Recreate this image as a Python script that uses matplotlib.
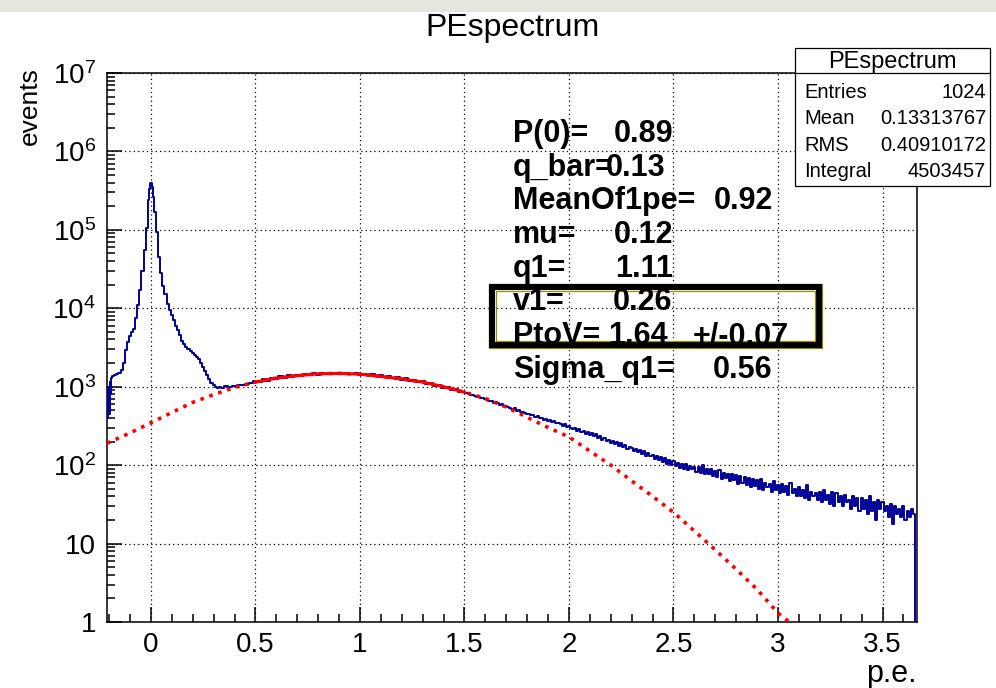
import matplotlib
matplotlib.use("Agg")
import numpy as np
import matplotlib.pyplot as plt
from matplotlib.patches import Rectangle
from matplotlib.lines import Line2D
from matplotlib.ticker import FixedLocator, FixedFormatter, MultipleLocator, LogLocator, NullFormatter

plt.rcParams['font.family'] = ['Liberation Sans', 'DejaVu Sans']
plt.rcParams['mathtext.fontset'] = 'custom'
plt.rcParams['mathtext.rm'] = 'Liberation Sans'

# ---- data ----
# blue histogram: pedestal peak (irregular spacing)
peak_x = [-0.208, -0.204, -0.200, -0.196, -0.192, -0.188, -0.184, -0.180, -0.170, -0.160,
          -0.150, -0.140, -0.130, -0.120, -0.110, -0.100, -0.090, -0.080, -0.070, -0.060,
          -0.050, -0.040, -0.030, -0.020, -0.012, -0.006, 0.000, 0.006, 0.012, 0.020,
          0.030, 0.040, 0.050, 0.060, 0.070, 0.080, 0.090, 0.100, 0.110, 0.120,
          0.130, 0.140, 0.150, 0.160, 0.170, 0.180, 0.190, 0.200, 0.210, 0.220,
          0.230, 0.240, 0.250, 0.260, 0.270, 0.280, 0.290, 0.300, 0.310, 0.320,
          0.330, 0.340, 0.360, 0.380, 0.400, 0.420, 0.440, 0.460, 0.480]
peak_y = [400, 1000, 450, 1150, 800, 1300, 1350, 1380, 1400, 1450,
          1500, 1650, 2000, 2900, 3700, 4400, 5000, 5500, 7500, 11000,
          17000, 30000, 55000, 105000, 240000, 330000, 400000, 350000, 260000, 170000,
          95000, 45000, 28000, 19000, 15000, 11500, 9500, 8200, 7000, 6000,
          5300, 4500, 3800, 3500, 3200, 3000, 2850, 2700, 2550, 2400,
          2250, 2000, 1800, 1600, 1400, 1250, 1120, 1040, 980, 960,
          1000, 975, 1010, 995, 1030, 1050, 1065, 1090, 1130]

# blue histogram: 1 p.e. region, bins of 0.02 from 0.50 to 1.48
hump_x = np.round(np.arange(0.50, 1.49, 0.02), 2)
hump_y = [1190, 1150, 1240, 1200, 1300, 1260, 1350, 1300, 1390, 1350,
          1430, 1380, 1460, 1410, 1480, 1430, 1500, 1450, 1510, 1460,
          1515, 1455, 1500, 1440, 1490, 1420, 1460, 1395, 1440, 1370,
          1400, 1330, 1365, 1285, 1320, 1235, 1275, 1185, 1225, 1135,
          1175, 1085, 1115, 1025, 1055, 965, 990, 905, 930, 850]

# blue histogram: tail, bins of 0.01 from 1.50 to 3.66
tail_x = np.round(np.arange(1.50, 3.665, 0.01), 2)
tail_y = [860, 825, 830, 790, 795, 760, 745, 742, 712, 715,
          690, 682, 655, 660, 628, 632, 612, 592, 598, 570,
          568, 545, 542, 520, 530, 496, 498, 478, 470, 468,
          450, 455, 432, 436, 410, 420, 398, 405, 380, 392,
          370, 378, 352, 365, 340, 345, 332, 320, 330, 308,
          318, 300, 292, 298, 275, 285, 266, 275, 252, 262,
          245, 255, 232, 246, 222, 238, 210, 222, 205, 212,
          192, 205, 186, 198, 178, 190, 170, 182, 160, 172,
          165, 152, 162, 146, 158, 140, 150, 132, 144, 130,
          136, 120, 132, 116, 126, 110, 124, 104, 118, 100,
          112, 98, 108, 92, 104, 90, 102, 86, 98, 88,
          96, 82, 94, 80, 100, 78, 90, 76, 88, 72,
          84, 70, 86, 66, 80, 68, 78, 62, 76, 64,
          74, 58, 72, 60, 70, 56, 68, 52, 66, 54,
          64, 50, 66, 48, 60, 52, 58, 46, 62, 48,
          56, 44, 58, 46, 54, 42, 60, 44, 50, 40,
          52, 40, 48, 38, 56, 36, 46, 40, 44, 36,
          46, 34, 48, 36, 42, 32, 46, 30, 44, 34,
          40, 30, 42, 34, 36, 28, 40, 30, 38, 26,
          38, 28, 36, 24, 40, 26, 34, 20, 36, 28,
          34, 26, 30, 22, 32, 18, 30, 24, 28, 22,
          30, 20, 26, 22, 28, 24, 0.5]

# red fit curve
red_x = [-0.21, -0.1, 0.0, 0.1, 0.2, 0.3, 0.4, 0.5, 0.6, 0.7, 0.8, 0.9, 1.0, 1.1, 1.2, 1.3,
         1.4, 1.5, 1.6, 1.7, 1.8, 1.9, 2.0, 2.1, 2.2, 2.3, 2.4, 2.5, 2.6, 2.7, 2.8, 2.9,
         3.0, 3.1]
red_y = [190, 257, 347, 468, 631, 794, 977, 1148, 1288, 1380, 1462, 1479, 1445, 1349, 1259, 1148,
         1000, 851, 708, 550, 407, 302, 229, 151, 100, 63, 40, 25, 14.5, 8.3, 4.7, 2.6,
         1.3, 0.8]

x_ticks = [0, 0.5, 1, 1.5, 2, 2.5, 3, 3.5]
x_tick_labels = ['0', '0.5', '1', '1.5', '2', '2.5', '3', '3.5']
y_ticks = [1, 10, 1e2, 1e3, 1e4, 1e5, 1e6, 1e7]
y_tick_labels = ['1', '10'] + [r'$\mathregular{10^{%d}}$' % k for k in range(2, 8)]

fit_labels = ['P(0)=', 'q_bar=', 'MeanOf1pe=', 'mu=', 'q1=', 'v1=', 'PtoV=', 'Sigma_q1=']
fit_values = ['0.89', '0.13', '0.92', '0.12', '1.11', '0.26', '1.64', '0.56']
stats_names = ['Entries', 'Mean', 'RMS', 'Integral']
stats_values = ['1024', '0.13313767', '0.40910172', '4503457']

# ---- figure in pixel layout ----
W, H = 996, 688
fig = plt.figure(figsize=(9.96, 6.88), dpi=100)

def fx(px):
    return px / W

def fy(py):
    return 1 - py / H

# screenshot strip at the top
fig.patches.append(Rectangle((0, fy(12)), 1, 12 / H, transform=fig.transFigure,
                             facecolor='#e7e5e0', edgecolor='none'))

ax = fig.add_axes([fx(107), fy(622), fx(917) - fx(107), fy(73) - fy(622)])
ax.set_yscale('log')
ax.set_xlim(-0.21, 3.665)
ax.set_ylim(1, 1e7)

blue_x = list(peak_x) + list(hump_x) + list(tail_x)
blue_y = list(peak_y) + list(hump_y) + list(tail_y)
ax.step(blue_x, blue_y, where='mid', color='#000099', lw=1.4, zorder=3)
ax.plot(red_x, red_y, color='red', lw=2.6, linestyle=(0, (1, 1.6)),
        dash_capstyle='butt', zorder=4)
mid = [i for i, v in enumerate(red_x) if 0.5 <= v <= 1.5]
ax.plot([red_x[i] for i in mid], [red_y[i] for i in mid], color='red', lw=2.2, zorder=4)

ax.xaxis.set_major_locator(FixedLocator(x_ticks))
ax.xaxis.set_major_formatter(FixedFormatter(x_tick_labels))
ax.xaxis.set_minor_locator(MultipleLocator(0.1))
ax.yaxis.set_major_locator(FixedLocator(y_ticks))
ax.yaxis.set_major_formatter(FixedFormatter(y_tick_labels))
ax.yaxis.set_minor_locator(LogLocator(base=10, subs=range(2, 10), numticks=20))
ax.yaxis.set_minor_formatter(NullFormatter())

ax.tick_params(which='both', direction='in', top=False, right=False, width=1.1,
               labelsize=20, colors='black')
ax.tick_params(which='major', length=11)
ax.tick_params(which='minor', length=6)
ax.tick_params(axis='x', pad=7)
ax.tick_params(axis='y', pad=8)
for s in ax.spines.values():
    s.set_linewidth(1.1)

ax.grid(True, which='major', color='black', lw=0.9, linestyle=(0, (1, 2.5)))
ax.set_axisbelow(True)

ax.set_ylabel('events', fontsize=19, loc='top')
ax.yaxis.set_label_coords(-0.081, 1.011)
ax.set_xlabel('p.e.', fontsize=22, loc='right')
ax.xaxis.set_label_coords(1.0, -0.068)

fig.text(fx(513), fy(36), 'PEspectrum', ha='center', va='baseline', fontsize=23)

# fit results text
val_x = [614, 606, 714, 614, 615, 613, 608, 713]
for i, (lab, val) in enumerate(zip(fit_labels, fit_values)):
    yb = fy(142 + 33.7 * i)
    fig.text(fx(513), yb, lab, fontsize=22, fontweight='bold', va='baseline', zorder=10)
    fig.text(fx(val_x[i]), yb, val, fontsize=22, fontweight='bold', va='baseline', zorder=10)
fig.text(fx(693), fy(142 + 33.7 * 6), '+/-0.07', fontsize=22, fontweight='bold',
         va='baseline', zorder=10)

# highlight frame round v1 / PtoV
def frame(x0, y0, x1, y1, color, lw):
    fig.patches.append(Rectangle((fx(x0), fy(y1)), fx(x1) - fx(x0), (y1 - y0) / H,
                                 transform=fig.transFigure, fill=False,
                                 edgecolor=color, lw=lw, zorder=9))

frame(488.5, 284.5, 821.5, 348.5, '#9a8a10', 0.9)
frame(491.5, 287.5, 818.5, 345.5, 'black', 4.4)
frame(495.5, 291.5, 814.5, 341.5, '#9a8a10', 0.9)

# stats box
fig.patches.append(Rectangle((fx(795), fy(186)), fx(990) - fx(795), (186 - 48) / H,
                             transform=fig.transFigure, facecolor='white',
                             edgecolor='black', lw=0.9, zorder=8))
fig.add_artist(Line2D([fx(795), fx(990)], [fy(73), fy(73)], color='black', lw=0.9, zorder=9))
fig.text(fx(892), fy(62), 'PEspectrum', ha='center', va='center', fontsize=17, zorder=10)
for i, (n, v) in enumerate(zip(stats_names, stats_values)):
    yc = fy(92 + 26.6 * i)
    fig.text(fx(804), yc, n, ha='left', va='center', fontsize=14.5, zorder=10)
    fig.text(fx(986), yc, v, ha='right', va='center', fontsize=14.5, zorder=10)

fig.savefig('out.png', dpi=100, facecolor='white')
